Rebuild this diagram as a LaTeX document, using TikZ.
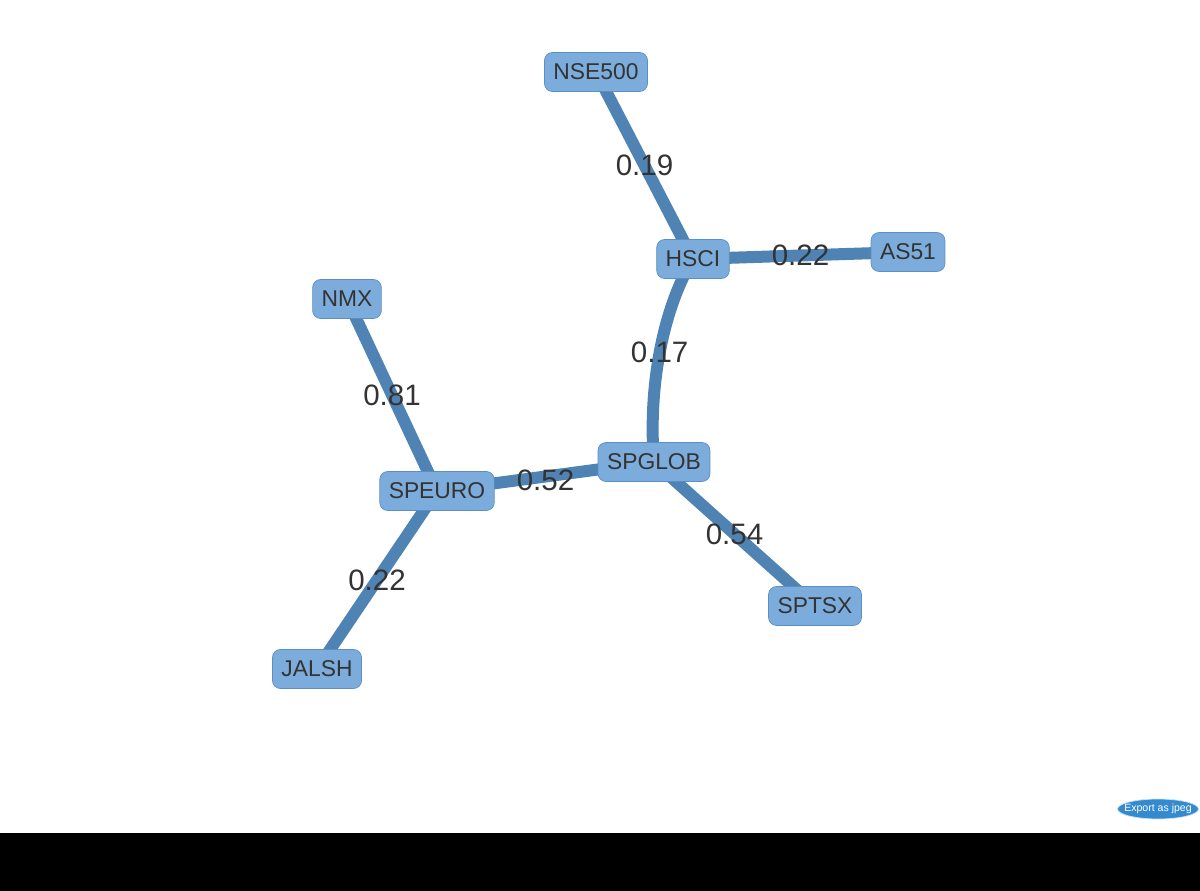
\documentclass[tikz,border=0pt]{standalone}
\usepackage{fontspec}
\setmainfont{Liberation Sans}
\usetikzlibrary{shapes.geometric,backgrounds}
\definecolor{nodefill}{RGB}{124,172,220}
\definecolor{nodeline}{RGB}{90,142,196}
\definecolor{edgecol}{RGB}{78,131,180}
\definecolor{txtcol}{RGB}{51,51,51}
\definecolor{btnfill}{RGB}{52,138,206}
\begin{document}
\begin{tikzpicture}[x=0.02cm, y=-0.02cm]
    % Define the style for the blocks
    \tikzset{block/.style={rectangle, rounded corners=0.16cm, draw=nodeline, fill=nodefill, text=txtcol, minimum height=0.78cm, inner xsep=0.18cm, font=\fontsize{13}{15}\selectfont}}
    \tikzset{link/.style={draw=edgecol, line width=0.24cm}}
    \tikzset{weight/.style={text=txtcol, inner sep=0pt, font=\fontsize{16.8}{19}\selectfont}}

    % Page and footer
    \useasboundingbox (0,0) rectangle (1200,891);
    \fill[black] (0,833) rectangle (1200,891);

    % Place the blocks
    \node[block] (nse) at (596,72) {NSE500};
    \node[block] (hsci) at (693,259) {HSCI};
    \node[block] (as51) at (908,252) {AS51};
    \node[block] (nmx) at (347,299) {NMX};
    \node[block] (speuro) at (437,491) {SPEURO};
    \node[block] (spglob) at (654,462) {SPGLOB};
    \node[block] (sptsx) at (815,606) {SPTSX};
    \node[block] (jalsh) at (317,669) {JALSH};

    % Draw the links behind the blocks
    \begin{pgfonlayer}{background}
    \draw[link] (nse.center) -- node[weight] {0.19} (hsci.center);
    \draw[link] (hsci.center) -- node[weight] {0.22} (as51.center);
    \draw[link] (hsci.center) .. controls (662,310) and (648,390) .. node[weight] {0.17} (spglob.center);
    \draw[link] (nmx.center) -- node[weight] {0.81} (speuro.center);
    \draw[link] (speuro.center) -- node[weight, yshift=-0.08cm] {0.52} (spglob.center);
    \draw[link] (spglob.center) -- node[weight] {0.54} (sptsx.center);
    \draw[link] (speuro.center) -- node[weight] {0.22} (jalsh.center);
    \end{pgfonlayer}

    % Export button
    \node[ellipse, draw=white!75!btnfill, fill=btnfill, text=white, minimum width=1.62cm, minimum height=0.4cm, inner xsep=-0.3cm, inner ysep=-0.1cm, font=\fontsize{6}{7}\selectfont] (export) at (1158,809) {Export as jpeg};

\end{tikzpicture}
\end{document}
